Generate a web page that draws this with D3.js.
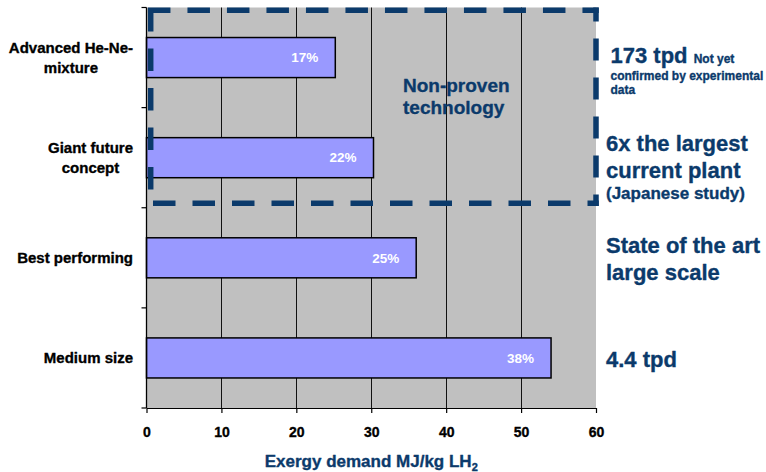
<!DOCTYPE html>
<html>
<head>
<meta charset="utf-8">
<script src="https://cdn.jsdelivr.net/npm/d3@7"></script>
<style>
  html, body { margin: 0; padding: 0; background: #ffffff; }
  svg { display: block; font-family: "Liberation Sans", Arial, Helvetica, sans-serif; }
  text.heavy { paint-order: stroke; stroke-width: 0.35px; stroke-linejoin: round; }
</style>
</head>
<body>
<div id="chart"></div>
<script>
// Liquefaction plant categories, top to bottom
const categories = ["Advanced He-Ne-mixture", "Giant future concept", "Best performing", "Medium size"];
const categoryLines = [["Advanced He-Ne-", "mixture"], ["Giant future", "concept"], ["Best performing"], ["Medium size"]];
// Exergy demand in MJ per kg of liquid hydrogen
const exergyDemand = [25.2, 30.3, 36.0, 54.0];
// Exergetic efficiency printed inside each bar
const efficiencyLabels = ["17%", "22%", "25%", "38%"];
const xTicks = [0, 10, 20, 30, 40, 50, 60];
// Notes at the right of each bar
const noteHeadlines = [["173 tpd"], ["6x the largest", "current plant"], ["State of the art", "large scale"], ["4.4 tpd"]];
const noteDetails = [["Not yet", "confirmed by experimental", "data"], ["(Japanese study)"], [], []];
const unprovenLabel = ["Non-proven", "technology"];

(function () {
const W = 766, H = 472;
const navy = "#0b3a6b";
const plotTop = 7.5, plotBottom = 408;

const svg = d3.select("#chart").append("svg").attr("width", W).attr("height", H);

const x = d3.scaleLinear().domain([0, 60]).range([146.5, 596]);
const y = d3.scaleBand().domain(categories).range([plotTop, plotBottom]).paddingInner(0.6).paddingOuter(0.3);
const rows = categories.map((c, i) => ({ c, i, v: exergyDemand[i], label: efficiencyLabels[i] }));

// bold text with a hairline outline in its own colour
const heavyText = (sel, color) => sel.append("text").attr("class", "heavy")
  .attr("fill", color).attr("stroke", color).attr("font-weight", "bold");

// plot area
svg.append("rect")
  .attr("x", x(0)).attr("y", plotTop)
  .attr("width", x(60) - x(0)).attr("height", plotBottom - plotTop)
  .attr("fill", "#c0c0c0");

// vertical gridlines
svg.append("g").selectAll("line")
  .data(xTicks.filter(d => d > 0 && d < 60))
  .join("line")
  .attr("x1", d => Math.round(x(d)) + 0.5).attr("x2", d => Math.round(x(d)) + 0.5)
  .attr("y1", plotTop).attr("y2", plotBottom)
  .attr("stroke", "#111").attr("stroke-width", 1);

// bars
svg.append("g").selectAll("rect")
  .data(rows)
  .join("rect")
  .attr("x", x(0))
  .attr("y", d => y(d.c))
  .attr("width", d => x(d.v) - x(0))
  .attr("height", y.bandwidth())
  .attr("fill", "#9999ff")
  .attr("stroke", "#000").attr("stroke-width", 1.5);

// efficiency labels
svg.append("g").selectAll("text")
  .data(rows)
  .join("text")
  .attr("x", d => x(d.v) - 17)
  .attr("y", d => y(d.c) + y.bandwidth() / 2 + 4.8)
  .attr("text-anchor", "end")
  .attr("fill", "#ffffff")
  .attr("font-weight", "bold")
  .attr("font-size", "13.5px")
  .text(d => d.label);

// x axis
const xAxis = svg.append("g")
  .attr("transform", `translate(0,${plotBottom})`)
  .call(d3.axisBottom(x).tickValues(xTicks).tickSize(5).tickSizeOuter(0));
xAxis.attr("font-family", null);
xAxis.select(".domain").attr("stroke", "#000").attr("stroke-width", 1.2);
xAxis.selectAll(".tick line").attr("stroke", "#000").attr("stroke-width", 1.2);
xAxis.selectAll(".tick text")
  .attr("class", "heavy")
  .attr("y", 29).attr("dy", 0)
  .attr("fill", "#000").attr("stroke", "#000")
  .attr("font-size", "14px")
  .attr("font-weight", "bold");

// y axis: line with ticks at the category boundaries
const yAxis = svg.append("g");
yAxis.append("line")
  .attr("x1", x(0)).attr("x2", x(0)).attr("y1", plotTop).attr("y2", plotBottom)
  .attr("stroke", "#000").attr("stroke-width", 1.3);
yAxis.selectAll("line.tick")
  .data(d3.range(categories.length + 1))
  .join("line").attr("class", "tick")
  .attr("x1", x(0) - 5).attr("x2", x(0))
  .attr("y1", i => plotTop + i * y.step()).attr("y2", i => plotTop + i * y.step())
  .attr("stroke", "#000").attr("stroke-width", 1.2);

// category labels, lines centred on each other, right edge next to the axis
rows.forEach(d => {
  const lines = categoryLines[d.i];
  const cy = y(d.c) + y.bandwidth() / 2;
  const lineH = 20;
  const first = cy + 5.3 - (lines.length - 1) * lineH / 2;
  const t = heavyText(svg, "#000")
    .attr("text-anchor", "middle")
    .attr("font-size", "15px");
  lines.forEach((ln, k) => {
    t.append("tspan").attr("x", 0).attr("y", first + k * lineH).text(ln);
  });
  const w = t.node().getBBox().width;
  t.attr("transform", `translate(${133 - w / 2},0)`);
});

// axis title
const title = heavyText(svg, navy)
  .attr("x", (x(0) + x(60)) / 2)
  .attr("y", 466.5)
  .attr("text-anchor", "middle")
  .attr("font-size", "17px");
title.append("tspan").text("Exergy demand MJ/kg LH");
title.append("tspan").attr("font-size", "11px").attr("dy", 4).text("2");

// dashed frame around the unproven concepts
const sw = 5.5;
const bx0 = x(0) + 4.2, bx1 = x(60);
const by0 = plotTop + 2.8, by1 = plotTop + 2 * y.step() - 4.5;
const frame = svg.append("g")
  .attr("stroke", navy).attr("stroke-width", sw).attr("fill", "none");
frame.append("line")
  .attr("x1", bx0 - sw / 2).attr("x2", bx1 + sw / 2).attr("y1", by0).attr("y2", by0)
  .attr("stroke-dasharray", "22.5 17");
frame.append("line")
  .attr("x1", bx0).attr("x2", bx0).attr("y1", by0 - 1.3).attr("y2", by1)
  .attr("stroke-dasharray", "22.5 17");
frame.append("line")
  .attr("x1", bx0 + 2.3).attr("x2", bx1 + sw / 2).attr("y1", by1).attr("y2", by1)
  .attr("stroke-dasharray", "22.5 17");
frame.append("line")
  .attr("x1", bx1).attr("x2", bx1).attr("y1", by0 - sw / 2).attr("y2", by1 + sw / 2)
  .attr("stroke-dasharray", "22 17").attr("stroke-dashoffset", 8);

// label inside the frame
const up = heavyText(svg, navy).attr("font-size", "19px");
unprovenLabel.forEach((ln, k) => {
  up.append("tspan").attr("x", 403).attr("y", 91.5 + k * 22).text(ln);
});

// notes at the right
const noteX = 606;
const note = (i) => y(categories[i]) + y.bandwidth() / 2;

// 173 tpd
{
  const cy = note(0);
  const t = heavyText(svg, navy).attr("x", noteX + 4.5).attr("y", cy + 5.8);
  t.append("tspan").attr("font-size", "22px").text(noteHeadlines[0][0] + " ");
  t.append("tspan").attr("font-size", "12px").text(noteDetails[0][0]);
  noteDetails[0].slice(1).forEach((ln, k) => {
    heavyText(svg, navy).attr("font-size", "12px")
      .attr("x", noteX + 4.5).attr("y", cy + 22.5 + k * 14.3).text(ln);
  });
}
// 6x the largest current plant
{
  const cy = note(1);
  noteHeadlines[1].forEach((ln, k) => {
    heavyText(svg, navy).attr("font-size", "22px")
      .attr("x", noteX).attr("y", cy - 7 + k * 27.6).text(ln);
  });
  heavyText(svg, navy).attr("font-size", "17px")
    .attr("x", noteX).attr("y", cy + 41.5).text(noteDetails[1][0]);
}
// State of the art large scale
{
  const cy = note(2);
  noteHeadlines[2].forEach((ln, k) => {
    heavyText(svg, navy).attr("font-size", "22px")
      .attr("x", noteX).attr("y", cy - 5.2 + k * 27).text(ln);
  });
}
// 4.4 tpd
{
  const cy = note(3);
  heavyText(svg, navy).attr("font-size", "22px")
    .attr("x", noteX).attr("y", cy + 8.8).text(noteHeadlines[3][0]);
}
})();
</script>
</body>
</html>
